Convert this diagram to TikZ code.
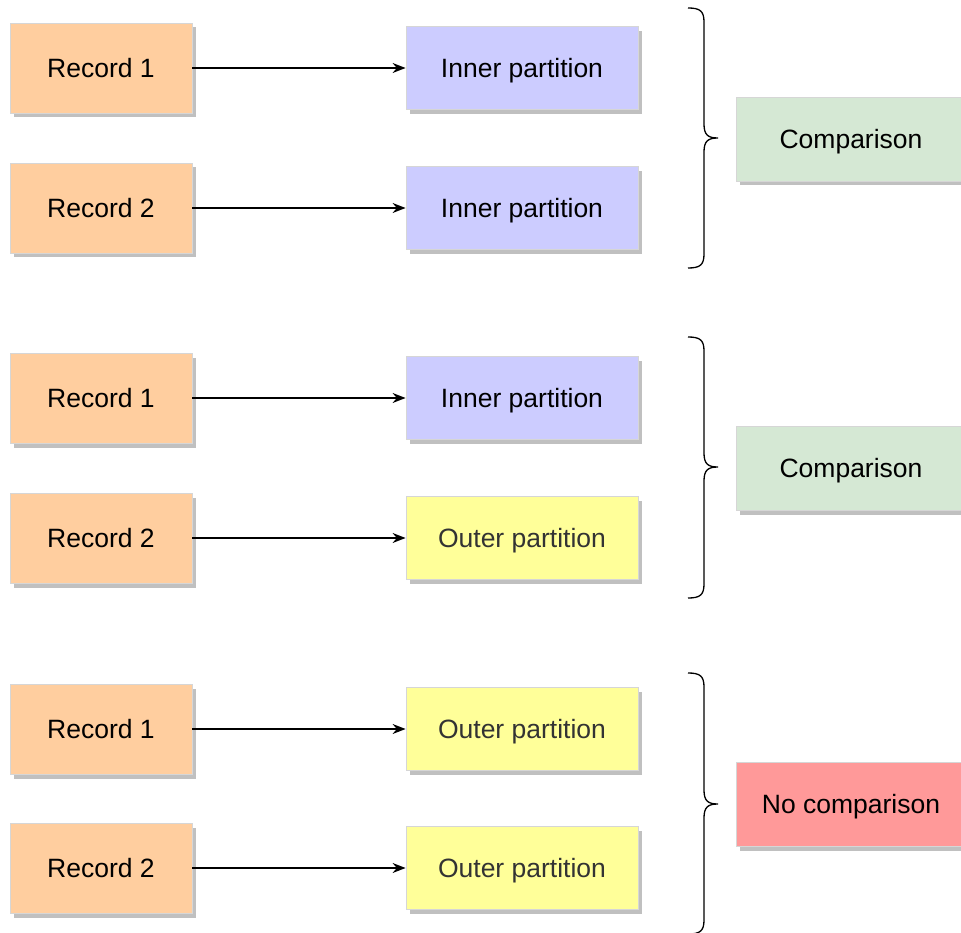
\documentclass[tikz,border=0pt]{standalone}
\usepackage{fontspec}
\setmainfont{Liberation Sans}
\usetikzlibrary{shadows,arrows.meta}
\definecolor{recfill}{HTML}{FFCE9F}
\definecolor{innerfill}{HTML}{CCCCFF}
\definecolor{outerfill}{HTML}{FFFF99}
\definecolor{cmpfill}{HTML}{D5E8D4}
\definecolor{nocmpfill}{HTML}{FF9999}
\definecolor{boxline}{HTML}{D6D6D6}
\definecolor{shadowgray}{HTML}{C0C0C0}
\definecolor{darktext}{HTML}{333333}
\tikzset{
  basebox/.style={draw=boxline, line width=0.8pt, inner sep=0pt,
    font=\fontsize{26.5}{31}\selectfont, text height=18.8pt, text depth=0pt,
    drop shadow={shadow xshift=3.5pt, shadow yshift=-4.5pt, fill=shadowgray, opacity=1}},
  recbox/.style={basebox, fill=recfill, minimum width=182pt, minimum height=90pt},
  innerbox/.style={basebox, fill=innerfill, minimum width=232pt, minimum height=83pt},
  outerbox/.style={basebox, fill=outerfill, text=darktext, minimum width=232pt, minimum height=83pt},
  cmpbox/.style={basebox, fill=cmpfill, minimum width=229pt, minimum height=84pt},
  nocmpbox/.style={basebox, fill=nocmpfill, minimum width=229pt, minimum height=84pt},
  link/.style={-{Stealth[length=13pt,width=10pt]}, line width=1.3pt},
  bracepath/.style={line width=1.3pt},
}
\begin{document}
\begin{tikzpicture}[x=1pt,y=-1pt]
\useasboundingbox (0,0) rectangle (961,933);
\clip (0,0) rectangle (961,933);

% records
\node[recbox] (r1) at (101,68) {Record 1};
\node[recbox] (r2) at (101,208) {Record 2};
\node[recbox] (r3) at (101,398) {Record 1};
\node[recbox] (r4) at (101,538) {Record 2};
\node[recbox] (r5) at (101,729) {Record 1};
\node[recbox] (r6) at (101,868) {Record 2};

% partitions
\node[innerbox] (p1) at (522,68) {Inner partition};
\node[innerbox] (p2) at (522,208) {Inner partition};
\node[innerbox] (p3) at (522,398) {Inner partition};
\node[outerbox] (p4) at (522,538) {Outer partition};
\node[outerbox] (p5) at (522,729) {Outer partition};
\node[outerbox] (p6) at (522,868) {Outer partition};

% outcomes
\node[cmpbox] (c1) at (851,139) {Comparison};
\node[cmpbox] (c2) at (851,468) {Comparison};
\node[nocmpbox] (c3) at (851,804) {No comparison};

% connectors
\foreach \i in {1,...,6}
  \draw[link] (r\i.east) -- (p\i.west);

% braces
\foreach \top/\tip/\bot in {8/138/268, 337/467/598, 673/804/934}{
  \draw[bracepath] (688,\top) .. controls (700,\top) and (704,\top+3) .. (704,\top+14)
    -- (704,\tip-14) .. controls (704,\tip-3) and (708,\tip) .. (718,\tip)
    .. controls (708,\tip) and (704,\tip+3) .. (704,\tip+14)
    -- (704,\bot-14) .. controls (704,\bot-3) and (700,\bot) .. (688,\bot);
}
\end{tikzpicture}
\end{document}
